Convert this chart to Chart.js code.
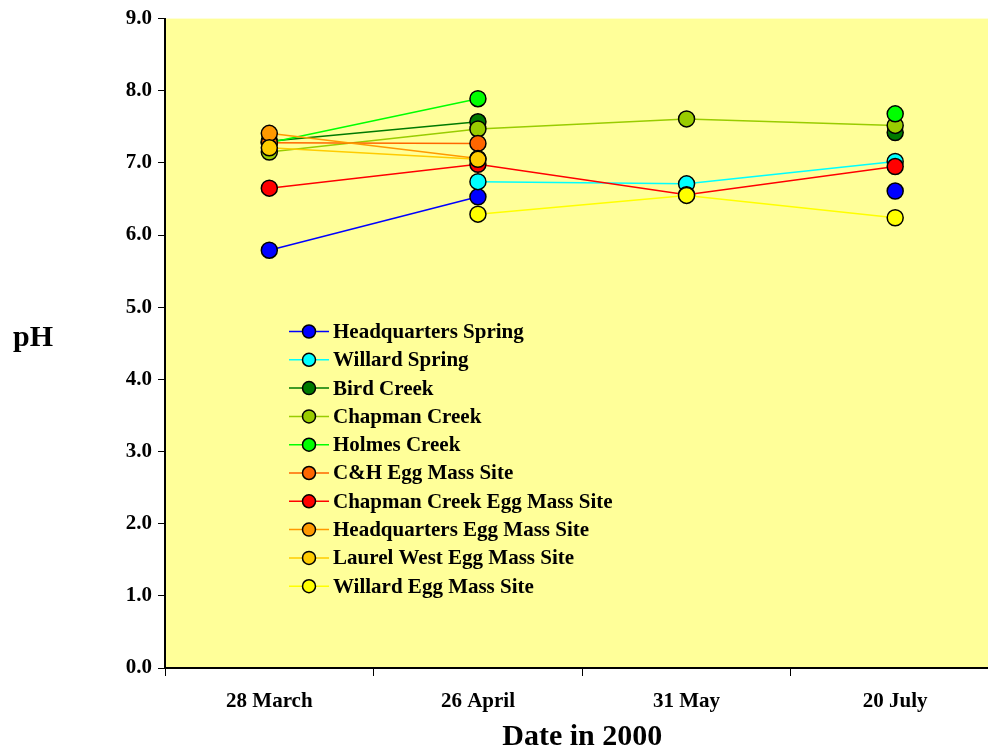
<!DOCTYPE html>
<html>
<head>
<meta charset="utf-8">
<script src="https://cdn.jsdelivr.net/npm/chart.js@4/dist/chart.umd.min.js"></script>
<style>
  html, body { margin: 0; padding: 0; background: #fff; overflow: hidden; }
  #wrap { position: relative; width: 1009px; height: 749px; }
</style>
</head>
<body>
<div id="wrap"><canvas id="chart"></canvas></div>
<script>
const dates = ['28 March', '26 April', '31 May', '20 July'];
const yTicks = [0, 1, 2, 3, 4, 5, 6, 7, 8, 9];

const hqSpring      = [5.79, 6.53, null, 6.61];
const willardSpring = [null, 6.74, 6.71, 7.02];
const birdCreek     = [7.30, 7.57, null, 7.42];
const chapmanCreek  = [7.15, 7.47, 7.61, 7.52];
const holmesCreek   = [7.28, 7.89, null, 7.68];
const chEgg         = [7.28, 7.27, null, null];
const chapmanEgg    = [6.65, 6.98, 6.56, 6.95];
const hqEgg         = [7.41, 7.06, null, null];
const laurelEgg     = [7.21, 7.05, null, null];
const willardEgg    = [null, 6.29, 6.55, 6.24];

const names = ['Headquarters Spring', 'Willard Spring', 'Bird Creek', 'Chapman Creek', 'Holmes Creek',
  'C&H Egg Mass Site', 'Chapman Creek Egg Mass Site', 'Headquarters Egg Mass Site',
  'Laurel West Egg Mass Site', 'Willard Egg Mass Site'];
const series = [hqSpring, willardSpring, birdCreek, chapmanCreek, holmesCreek,
  chEgg, chapmanEgg, hqEgg, laurelEgg, willardEgg];
const colors = ['#0000FF', '#00FFFF', '#007A00', '#99CC00', '#00FF00',
  '#FF6600', '#FF0000', '#FF9900', '#FFCC00', '#FFFF00'];

const FONT = '"Liberation Serif", "Times New Roman", serif';

// yellow plot background
const plotBg = {
  id: 'plotBg',
  beforeDraw(chart) {
    const a = chart.chartArea, c = chart.ctx;
    c.save();
    c.fillStyle = '#FFFF99';
    c.fillRect(a.left, a.top, a.right - a.left, a.bottom - a.top);
    c.restore();
  }
};

// legend inside the plot + horizontal pH title
const extras = {
  id: 'extras',
  afterDraw(chart) {
    const c = chart.ctx;
    c.save();
    c.font = 'bold 30px ' + FONT;
    c.fillStyle = '#000';
    c.textAlign = 'center';
    c.textBaseline = 'middle';
    c.fillText('pH', 33, 338);

    c.font = 'bold 21px ' + FONT;
    c.textAlign = 'left';
    names.forEach((n, i) => {
      const y = 331.5 + i * 28.3;
      c.strokeStyle = colors[i];
      c.lineWidth = 1.5;
      c.beginPath();
      c.moveTo(289, y);
      c.lineTo(329, y);
      c.stroke();
      c.beginPath();
      c.arc(309, y, 6.5, 0, Math.PI * 2);
      c.fillStyle = colors[i];
      c.fill();
      c.strokeStyle = '#000';
      c.lineWidth = 1.5;
      c.stroke();
      c.fillStyle = '#000';
      c.fillText(n, 333, y + 1);
    });
    c.restore();
  }
};

const chart = new Chart(document.getElementById('chart'), {
  type: 'line',
  data: {
    labels: dates,
    datasets: series.map((d, i) => ({
      label: names[i],
      data: d,
      order: series.length - i,
      borderColor: colors[i],
      backgroundColor: colors[i],
      borderWidth: 1.5,
      pointRadius: 8,
      pointHoverRadius: 8,
      pointBorderColor: '#000',
      pointBorderWidth: 1.5,
      pointBackgroundColor: colors[i],
      tension: 0,
      spanGaps: false
    }))
  },
  options: {
    responsive: true,
    maintainAspectRatio: false,
    animation: false,
    layout: { padding: { top: 17, left: 0, right: 0, bottom: 0 } },
    plugins: { legend: { display: false }, tooltip: { enabled: false } },
    scales: {
      x: {
        offset: true,
        grid: { drawOnChartArea: false, offset: true, tickLength: 8, color: '#000', lineWidth: 1 },
        border: { display: true, color: '#000', width: 2 },
        ticks: { color: '#000', font: { family: FONT, size: 21, weight: 'bold' }, padding: 13, maxRotation: 0 },
        title: { display: true, text: 'Date in 2000', color: '#000',
                 font: { family: FONT, size: 30, weight: 'bold', lineHeight: 1 }, padding: { top: 0, bottom: -3 } },
        afterFit(s) { s.height = 81; }
      },
      y: {
        min: 0,
        max: 9,
        afterBuildTicks(s) { s.ticks = yTicks.map(v => ({ value: v })); },
        grid: { drawOnChartArea: false, tickLength: 7, color: '#000', lineWidth: 1 },
        border: { display: true, color: '#000', width: 2 },
        ticks: { color: '#000', font: { family: FONT, size: 21, weight: 'bold' }, padding: 6,
                 callback: v => v.toFixed(1) },
        afterFit(s) { s.width = 165; }
      }
    }
  },
  plugins: [plotBg, extras]
});
</script>
</body>
</html>
